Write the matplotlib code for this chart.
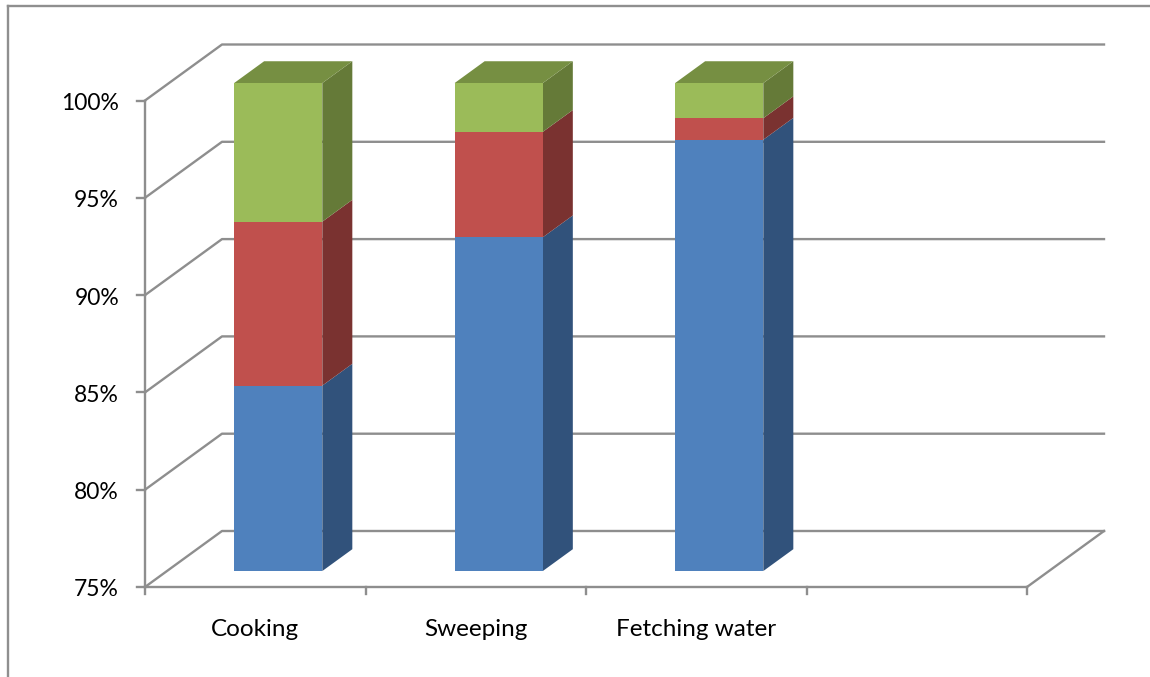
"""Stacked 3D-look column chart of chore shares, drawn as flat polygons."""

import matplotlib
matplotlib.use('Agg')
import matplotlib.pyplot as plt
from matplotlib.patches import Polygon
import numpy as np

plt.rcParams['font.family'] = ['Lato', 'DejaVu Sans']

categories = ['Cooking', 'Sweeping', 'Fetching water']
blue_values = [84.5, 92.1, 97.1]
red_values = [8.4, 5.4, 1.1]
green_values = [7.1, 2.5, 1.8]
y_ticks = [75, 80, 85, 90, 95, 100]
x_slots = [0, 1, 2, 3, 4]

# colours: front face, side face, top face
colors_blue = ('#4f81bd', '#31527b', '#3d6696')
colors_red = ('#c0504d', '#7a3230', '#984040')
colors_green = ('#9bbb59', '#657a38', '#768f42')
grid_color = '#8e8e8e'

# one category slot is 220.5 px wide, one percent is 19.46 px tall
SLOT_PX = 220.5
PCT_PX = 19.46

# floor depth as an oblique shift
DEPTH_X = 77 / SLOT_PX
DEPTH_Y = 56 / PCT_PX

# bars sit part of the way back on the floor and read slightly taller
BAR_WIDTH = 0.4
BAR_NEAR = 0.285
BAR_FAR = 0.675
BAR_SHIFT = 1.0 / SLOT_PX
BAR_STRETCH = 1.003

fig = plt.figure(figsize=(11.5, 6.77), dpi=100)
ax = fig.add_axes([0, 0, 1, 1])
ax.set_xlim(-145 / SLOT_PX, (1150 - 145) / SLOT_PX)
ax.set_ylim(75 - (677 - 587) / PCT_PX, 75 + 587 / PCT_PX)
ax.axis('off')


def skew(c, v, d):
    """Project slot position, value and depth (0..1) onto the page."""
    return (c + d * DEPTH_X, v + d * DEPTH_Y)


def grid_line(points, lw=1.7):
    xs, ys = zip(*points)
    ax.plot(xs, ys, color=grid_color, lw=lw, solid_capstyle='projecting', zorder=1)


def draw_segment(c, low, high, colors, top=False):
    left = c - BAR_WIDTH / 2 + BAR_SHIFT
    right = c + BAR_WIDTH / 2 + BAR_SHIFT
    low = y_ticks[0] + (low - y_ticks[0]) * BAR_STRETCH
    high = y_ticks[0] + (high - y_ticks[0]) * BAR_STRETCH
    side = [skew(right, low, BAR_NEAR), skew(right, low, BAR_FAR),
            skew(right, high, BAR_FAR), skew(right, high, BAR_NEAR)]
    ax.add_patch(Polygon(side, closed=True, fc=colors[1], ec='none', zorder=3))
    front = [skew(left, low, BAR_NEAR), skew(right, low, BAR_NEAR),
             skew(right, high, BAR_NEAR), skew(left, high, BAR_NEAR)]
    ax.add_patch(Polygon(front, closed=True, fc=colors[0], ec='none', zorder=4))
    if top:
        lid = [skew(left, high, BAR_NEAR), skew(right, high, BAR_NEAR),
               skew(right, high, BAR_FAR), skew(left, high, BAR_FAR)]
        ax.add_patch(Polygon(lid, closed=True, fc=colors[2], ec='none', zorder=3))


# chart area border, open on the right and at the bottom
to_data = ax.transData.inverted()
bx0, by0 = to_data.transform((8, 677 - 6))
bx1, by1 = to_data.transform((1150, 677 - 6))
_, by2 = to_data.transform((8, 0))
ax.plot([bx0, bx0], [by2, by0], color='#8f8f8f', lw=1.7, zorder=1)
ax.plot([bx0, bx1], [by0, by1], color='#8f8f8f', lw=1.7, zorder=1)

# walls: diagonal up from the axis, then straight along the back
x_end = x_slots[-1]
for tick in y_ticks:
    grid_line([skew(0, tick, 0), skew(0, tick, 1), skew(x_end, tick, 1)])
grid_line([skew(x_end, y_ticks[0], 0), skew(x_end, y_ticks[0], 1)])

# axis lines and ticks
grid_line([(0, y_ticks[0]), (0, y_ticks[-1])])
grid_line([(0, y_ticks[0]), (x_end, y_ticks[0])])
tick_x = 8 / SLOT_PX
tick_y = 7 / PCT_PX
for tick in y_ticks:
    grid_line([(-tick_x, tick), (0, tick)])
    ax.text(-26 / SLOT_PX, tick - 3 / PCT_PX, f'{tick}%', ha='right', va='center',
            fontsize=16.5, color='black')
for slot in x_slots:
    grid_line([(slot, y_ticks[0]), (slot, y_ticks[0] - tick_y)])

# stacked columns
blue = np.array(blue_values)
red_top = blue + np.array(red_values)
green_top = red_top + np.array(green_values)
for i, name in enumerate(categories):
    c = i + 0.5
    draw_segment(c, y_ticks[0], blue[i], colors_blue)
    draw_segment(c, blue[i], red_top[i], colors_red)
    draw_segment(c, red_top[i], green_top[i], colors_green, top=True)
    ax.text(c, y_ticks[0] - 42 / PCT_PX, name, ha='center', va='center',
            fontsize=17.5, color='black')

fig.savefig('out.png', dpi=100, facecolor='white')
